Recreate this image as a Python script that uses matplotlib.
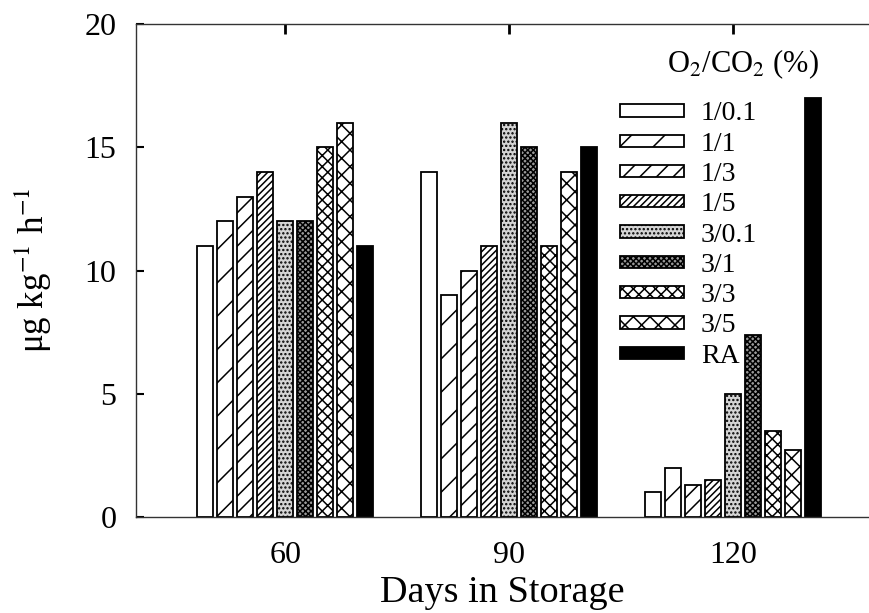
import matplotlib
matplotlib.use("Agg")
import matplotlib.pyplot as plt
import numpy as np
from matplotlib.patches import Patch

plt.rcParams['font.family'] = ['Liberation Serif', 'DejaVu Serif']
plt.rcParams['mathtext.fontset'] = 'stix'
plt.rcParams['hatch.linewidth'] = 1.1

days = ["60", "90", "120"]
treatments = ["1/0.1", "1/1", "1/3", "1/5", "3/0.1", "3/1", "3/3", "3/5", "RA"]
values = {
    "1/0.1": [11, 14, 1.0],
    "1/1":   [12, 9, 2.0],
    "1/3":   [13, 10, 1.3],
    "1/5":   [14, 11, 1.5],
    "3/0.1": [12, 16, 5.0],
    "3/1":   [12, 15, 7.4],
    "3/3":   [15, 11, 3.5],
    "3/5":   [16, 14, 2.7],
    "RA":    [11, 15, 17.0],
}
styles = {
    "1/0.1": dict(facecolor="white", hatch=None),
    "1/1":   dict(facecolor="white", hatch="/"),
    "1/3":   dict(facecolor="white", hatch="//"),
    "1/5":   dict(facecolor="white", hatch="/////"),
    "3/0.1": dict(facecolor="#d4d4d4", hatch="...."),
    "3/1":   dict(facecolor="#9a9a9a", hatch="xxxxxx"),
    "3/3":   dict(facecolor="white", hatch="xxx"),
    "3/5":   dict(facecolor="white", hatch="xx"),
    "RA":    dict(facecolor="black", hatch=None),
}

DPI = 100
fig = plt.figure(figsize=(869 / DPI, 613 / DPI), dpi=DPI)
ax = fig.add_axes([136 / 869, 96 / 613, 733 / 869, 493 / 613])

x = np.arange(len(days))
pitch = 0.0893
width = 0.0714
handles = []
for i, t in enumerate(treatments):
    st = styles[t]
    ax.bar(x + (i - 4) * pitch, values[t], width=width, facecolor=st["facecolor"],
           hatch=st["hatch"], edgecolor="black", linewidth=1.3)
    handles.append(Patch(facecolor=st["facecolor"], hatch=st["hatch"],
                         edgecolor="black", linewidth=1.3, label=t))

ax.set_xlim(-0.667, 2.605)
ax.set_ylim(0, 20)
ax.set_yticks([0, 5, 10, 15, 20])
ax.set_xticks(x)
ax.set_xticklabels(days)
ax.spines['right'].set_visible(False)
for s in ['left', 'top', 'bottom']:
    ax.spines[s].set_linewidth(1.0)
    ax.spines[s].set_color('#333333')
ax.tick_params(axis='y', direction='in', length=6, width=1.5, labelsize=23, pad=14)
ax.tick_params(axis='x', bottom=False, top=True, direction='in', length=7, width=2.0,
               labelsize=23, pad=17)

ax.set_xlabel("Days in Storage", fontsize=27.5, labelpad=4)
ax.set_ylabel("μg kg$^{-1}$ h$^{-1}$", fontsize=25, labelpad=22)

leg = ax.legend(handles=handles, loc='upper left',
                bbox_to_anchor=((624 - 136) / 733 - 0.005, (517 - 101.5) / 493),
                frameon=False, fontsize=20, handlelength=2.3, handleheight=0.3,
                labelspacing=0.19, handletextpad=0.6, borderpad=0, borderaxespad=0)
fig.text(667 / 869, 1 - 72 / 613, "O$_2$/CO$_2$ (%)", fontsize=22, va='baseline', ha='left')

fig.savefig("out.png", dpi=DPI)
